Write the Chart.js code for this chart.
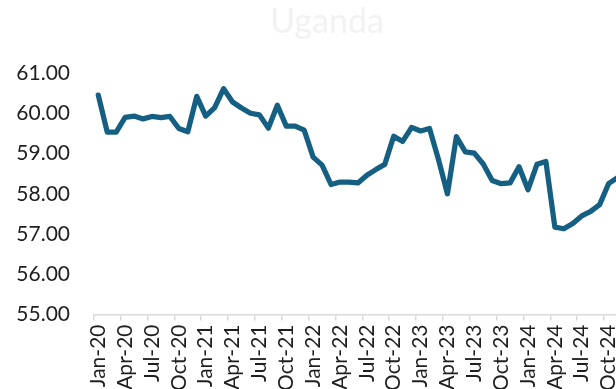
<!DOCTYPE html>
<html>
<head>
<meta charset="utf-8">
<title>Uganda</title>
<script src="https://cdn.jsdelivr.net/npm/chart.js@4"></script>
<style>
  html, body { margin: 0; padding: 0; background: #fff; overflow: hidden; }
</style>
</head>
<body>
<canvas id="ugandaChart" width="654" height="389"></canvas>
<script>
// monthly series, Jan-20 .. Nov-24
const monthNames = ["Jan", "Feb", "Mar", "Apr", "May", "Jun", "Jul", "Aug", "Sep", "Oct", "Nov", "Dec"];
const yearSuffixes = ["20", "21", "22", "23", "24"];

const values = [
    60.45, 59.53, 59.53, 59.90, 59.93, 59.86, 59.92, 59.89, 59.92, 59.62, 59.54, 60.42, // 2020
    59.93, 60.14, 60.61, 60.28, 60.13, 60.00, 59.96, 59.63, 60.20, 59.68, 59.68, 59.58, // 2021
    58.91, 58.71, 58.23, 58.29, 58.29, 58.27, 58.46, 58.60, 58.73, 59.43, 59.30, 59.65, // 2022
    59.56, 59.62, 58.85, 58.00, 59.42, 59.04, 59.01, 58.74, 58.33, 58.25, 58.27, 58.67, // 2023
    58.10, 58.73, 58.80, 57.17, 57.13, 57.26, 57.45, 57.56, 57.73, 58.25, 58.40         // 2024
];

const categories = [];
yearSuffixes.forEach(y => monthNames.forEach(m => categories.push(m + "-" + y)));
categories.length = values.length;

const yMin = 55;
const yMax = 61;
const yStep = 1;

const textColor = "#1f1f1f";
const axisGrey = "#d9d9d9";
const labelFont = { family: "Lato", size: 21 };

const ctx = document.getElementById("ugandaChart").getContext("2d");
new Chart(ctx, {
    type: "line",
    data: {
        labels: categories,
        datasets: [{
            data: values,
            borderColor: "#156082",
            borderWidth: 5.25,
            borderJoinStyle: "round",
            borderCapStyle: "round",
            pointRadius: 0,
            tension: 0,
            fill: false
        }]
    },
    options: {
        responsive: false,
        devicePixelRatio: 1,
        animation: false,
        plugins: {
            legend: { display: false },
            tooltip: { enabled: false },
            title: {
                display: true,
                text: "Uganda",
                color: "#f2f2f2",
                font: { family: "Lato", size: 34, weight: "normal" },
                padding: { top: 1.6, bottom: 30.6 }
            }
        },
        scales: {
            x: {
                type: "category",
                offset: true,
                grid: {
                    offset: true,
                    drawOnChartArea: false,
                    drawTicks: true,
                    tickLength: 6,
                    lineWidth: 1.5,
                    // tick marks only at quarter boundaries
                    color: c => (c.index % 3 === 0 ? axisGrey : "rgba(0,0,0,0)")
                },
                border: { color: axisGrey, width: 1.5 },
                ticks: {
                    autoSkip: false,
                    minRotation: 90,
                    maxRotation: 90,
                    padding: 4,
                    color: textColor,
                    font: labelFont,
                    callback: function (v, i) {
                        return i % 3 === 0 ? this.getLabelForValue(v) : "";
                    }
                },
                afterFit: s => {
                    s.height = 74.5;
                }
            },
            y: {
                min: yMin,
                max: yMax,
                grid: { display: false, drawTicks: false },
                border: { display: false },
                ticks: {
                    stepSize: yStep,
                    padding: 23.8,
                    color: textColor,
                    font: labelFont,
                    callback: v => v.toFixed(2)
                },
                afterFit: s => {
                    s.width = 93.8;
                }
            },
            // empty axis on the right, only reserves the margin
            yRight: {
                position: "right",
                min: yMin,
                max: yMax,
                grid: { display: false, drawTicks: false },
                border: { display: false },
                ticks: { display: false },
                afterFit: s => {
                    s.width = 32;
                }
            }
        }
    }
});
</script>
</body>
</html>
